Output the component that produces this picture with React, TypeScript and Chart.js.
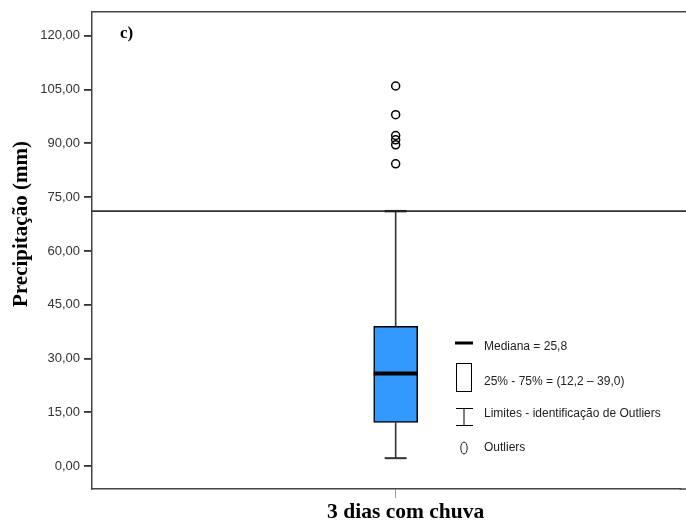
import React, { useEffect, useRef } from "react";
import { Chart, registerables } from "chart.js";

Chart.register(...registerables);

// ---- data ----
const categories = ["3 dias com chuva"];
const categoryPositions = [0];
const q1Values = [12.2];
const q3Values = [39.0];
const medianValues = [25.8];
const lowerWhisker = [2.2];
const upperWhisker = [71.1];
const outlierValues = [106.0, 98.0, 92.2, 91.0, 89.6, 84.3];
const yTicks = [0, 15, 30, 45, 60, 75, 90, 105, 120];
const yMin = -6.4;
const yMax = 126.7;
const xMin = -0.516;
const xMax = 0.484;
const legendLabels = [
  "Mediana = 25,8",
  "25% - 75% = (12,2 \u2013 39,0)",
  "Limites - identifica\u00e7\u00e3o de Outliers",
  "Outliers",
];
const panelLabel = "c)";
const yTitle = "Precipita\u00e7\u00e3o (mm)";

const boxPlugin = {
  id: "boxExtras",
  afterDatasetsDraw(chart: any) {
    const { ctx, chartArea, scales } = chart;
    const x = scales.x;
    const y = scales.y;
    ctx.save();
    categories.forEach((_, i) => {
      const cx = x.getPixelForValue(categoryPositions[i]);
      const half = 22;
      const cap = 11;
      ctx.strokeStyle = "#333";
      ctx.lineWidth = 1.6;
      ctx.beginPath();
      ctx.moveTo(cx, y.getPixelForValue(q3Values[i]));
      ctx.lineTo(cx, y.getPixelForValue(upperWhisker[i]));
      ctx.moveTo(cx, y.getPixelForValue(q1Values[i]));
      ctx.lineTo(cx, y.getPixelForValue(lowerWhisker[i]));
      ctx.stroke();
      ctx.lineWidth = 2;
      ctx.beginPath();
      const yl = y.getPixelForValue(lowerWhisker[i]);
      ctx.moveTo(cx - cap, yl);
      ctx.lineTo(cx + cap, yl);
      ctx.stroke();
      const yu = y.getPixelForValue(upperWhisker[i]);
      ctx.lineWidth = 1.6;
      ctx.beginPath();
      ctx.moveTo(chartArea.left, yu);
      ctx.lineTo(chart.width, yu);
      ctx.stroke();
      ctx.lineWidth = 2.4;
      ctx.strokeStyle = "#222";
      ctx.beginPath();
      ctx.moveTo(cx - cap, yu);
      ctx.lineTo(cx + cap, yu);
      ctx.stroke();
      const ym = y.getPixelForValue(medianValues[i]);
      ctx.strokeStyle = "#000";
      ctx.lineWidth = 4;
      ctx.beginPath();
      ctx.moveTo(cx - half, ym);
      ctx.lineTo(cx + half, ym);
      ctx.stroke();
    });
    ctx.strokeStyle = "#444";
    ctx.lineWidth = 1.5;
    ctx.beginPath();
    ctx.moveTo(chartArea.left, chartArea.top);
    ctx.lineTo(chart.width, chartArea.top);
    ctx.moveTo(chartArea.right - 1, chartArea.bottom);
    ctx.lineTo(chart.width, chartArea.bottom);
    ctx.stroke();

    ctx.fillStyle = "#000";
    ctx.font = "bold 17px 'Liberation Serif'";
    ctx.textBaseline = "middle";
    ctx.textAlign = "left";
    ctx.fillText(panelLabel, 120, 34);

    ctx.save();
    ctx.translate(22, 224);
    ctx.rotate(-Math.PI / 2);
    ctx.textAlign = "center";
    ctx.font = "bold 21px 'Liberation Serif'";
    ctx.fillText(yTitle, 0, 0);
    ctx.restore();

    const lx = 455;
    ctx.strokeStyle = "#000";
    ctx.lineWidth = 3;
    ctx.beginPath();
    ctx.moveTo(lx, 343);
    ctx.lineTo(lx + 18, 343);
    ctx.stroke();
    ctx.lineWidth = 1;
    ctx.strokeRect(lx + 1.5, 363.5, 15, 28);
    ctx.beginPath();
    ctx.moveTo(lx + 9, 408);
    ctx.lineTo(lx + 9, 425);
    ctx.moveTo(lx + 1, 408.5);
    ctx.lineTo(lx + 18, 408.5);
    ctx.moveTo(lx + 1, 425.5);
    ctx.lineTo(lx + 18, 425.5);
    ctx.stroke();
    ctx.lineWidth = 0.9;
    ctx.beginPath();
    ctx.ellipse(lx + 9, 448, 3.2, 6, 0, 0, Math.PI * 2);
    ctx.stroke();
    ctx.fillStyle = "#222";
    ctx.font = "12px 'Liberation Sans'";
    ctx.textAlign = "left";
    ctx.textBaseline = "middle";
    const ys = [347, 382, 414, 448];
    legendLabels.forEach((t, i) => ctx.fillText(t, 484, ys[i]));
    ctx.restore();
  },
};

export default function App() {
  const ref = useRef<HTMLCanvasElement>(null);
  useEffect(() => {
    document.body.style.margin = "0";
    const chart = new Chart(ref.current as HTMLCanvasElement, {
      type: "bar",
      data: {
        datasets: [
          {
            type: "bar",
            data: categories.map((_, i) => ({
              x: categoryPositions[i],
              y: [q1Values[i], q3Values[i]],
            })) as any,
            backgroundColor: "#3399ff",
            borderColor: "#000",
            borderWidth: 1.5,
            borderSkipped: false,
            barThickness: 44,
          } as any,
          {
            type: "scatter",
            data: outlierValues.map((v) => ({ x: categoryPositions[0], y: v })) as any,
            pointStyle: "circle",
            pointRadius: 4,
            borderColor: "#000",
            borderWidth: 1.5,
            backgroundColor: "rgba(255,255,255,0)",
            showLine: false,
          } as any,
        ],
      },
      options: {
        animation: false,
        responsive: true,
        maintainAspectRatio: false,
        layout: { padding: { top: 9, right: 0, left: 0, bottom: 0 } },
        plugins: { legend: { display: false }, tooltip: { enabled: false } },
        scales: {
          x: {
            type: "linear",
            min: xMin,
            max: xMax,
            offset: false,
            afterFit: (s: any) => {
              s.height = 37;
            },
            afterBuildTicks: (s: any) => {
              s.ticks = categoryPositions.map((v) => ({ value: v }));
            },
            grid: {
              drawOnChartArea: false,
              offset: false,
              drawTicks: true,
              tickLength: 9,
              color: "#999",
            },
            border: { display: true, color: "#444", width: 1.5 },
            ticks: {
              color: "#000",
              padding: 2,
              maxRotation: 0,
              labelOffset: 10,
              font: { family: "'Liberation Serif'", size: 21.5, weight: "bold" },
              callback: (v: any) => {
                const i = categoryPositions.indexOf(Number(v));
                return i >= 0 ? categories[i] : "";
              },
            },
          },
          y: {
            min: yMin,
            max: yMax,
            afterFit: (s: any) => {
              s.width = 92;
            },
            afterBuildTicks: (s: any) => {
              s.ticks = yTicks.map((v) => ({ value: v }));
            },
            grid: {
              drawOnChartArea: false,
              drawTicks: true,
              tickLength: 8,
              color: "#333",
              lineWidth: 1.8,
            },
            border: { display: true, color: "#444", width: 1.5 },
            ticks: {
              color: "#333",
              padding: 4,
              font: { family: "'Liberation Sans'", size: 13 },
              callback: (v: any) => Number(v).toFixed(2).replace(".", ","),
            },
          },
        },
      } as any,
      plugins: [boxPlugin],
    });
    return () => chart.destroy();
  }, []);
  return (
    <div style={{ width: 686, height: 526, position: "relative", background: "#fff", overflow: "hidden" }}>
      <canvas ref={ref} />
    </div>
  );
}
